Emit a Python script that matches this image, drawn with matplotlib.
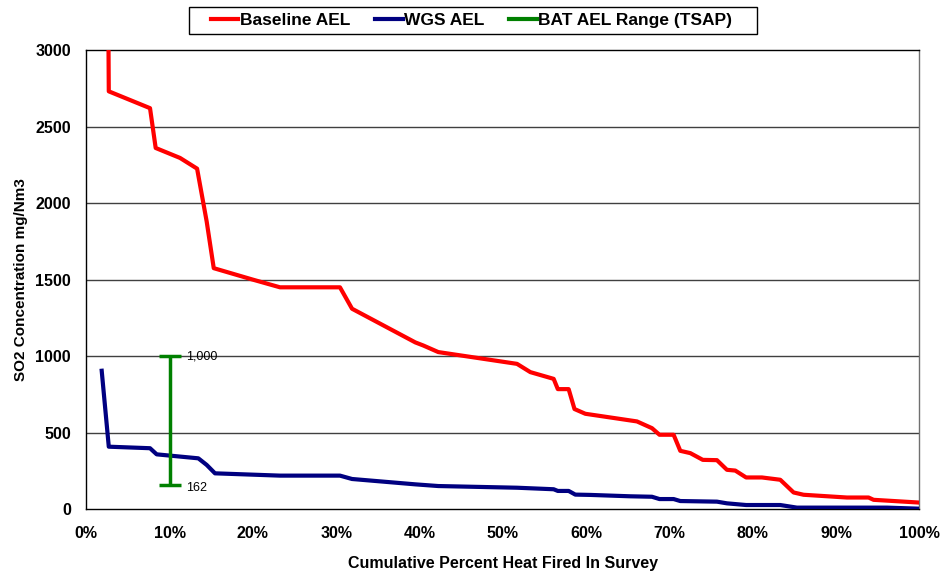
import matplotlib
matplotlib.use("Agg")
import matplotlib.pyplot as plt
from matplotlib.lines import Line2D
from matplotlib.patches import Rectangle

plt.rcParams['font.family'] = ['Liberation Sans', 'DejaVu Sans']

# Baseline AEL (red)
baseline_x = [2.6, 2.7, 7.65, 8.33, 11.25, 13.3, 14.45, 15.3, 20.0, 23.25, 30.45, 31.9,
              39.5, 40.45, 42.25, 51.7, 53.3, 56.1, 56.6, 57.9, 58.6, 59.9, 66.1, 67.9,
              68.8, 70.5, 71.3, 72.5, 74.0, 75.7, 76.9, 77.9, 79.2, 81.1, 83.3, 84.9,
              86.1, 91.3, 93.9, 94.5, 100.0]
baseline_y = [3600, 2730, 2620, 2360, 2295, 2225, 1880, 1575, 1500, 1450, 1450, 1310,
              1090, 1070, 1027, 950, 896, 852, 785, 785, 655, 624, 574, 530,
              487, 487, 382, 367, 323, 321, 258, 253, 208, 208, 193, 110,
              95, 77, 77, 62, 44]

# WGS AEL (blue)
wgs_x = [1.85, 2.7, 7.65, 8.45, 13.45, 14.45, 15.45, 23.25, 30.45, 31.9, 39.5, 42.25,
         51.7, 56.1, 56.6, 57.9, 58.7, 60.5, 65.3, 67.9, 68.8, 70.5, 71.3, 75.7,
         76.9, 79.2, 83.3, 85.3, 96.1, 100.0]
wgs_y = [905, 409, 399, 359, 333, 290, 235, 220, 220, 198, 163, 152,
         141, 131, 120, 120, 96, 94, 85, 82, 67, 67, 54, 50,
         39, 28, 28, 11, 11, 4]

# BAT AEL range (TSAP)
bat_x = 10
bat_low = 162
bat_high = 1000
bat_labels = ["1,000", "162"]

x_ticks = [0, 10, 20, 30, 40, 50, 60, 70, 80, 90, 100]
x_ticklabels = [f"{t}%" for t in x_ticks]
y_ticks = [0, 500, 1000, 1500, 2000, 2500, 3000]

fig = plt.figure(figsize=(9.42, 5.74), dpi=100)
ax = fig.add_axes([0.0916, 0.1127, 0.976 - 0.0916, 0.9129 - 0.1127])

for y in y_ticks[1:-1]:
    ax.axhline(y, color='#404040', lw=1.0, zorder=1)

red = '#FF0000'
blue = '#000080'
green = '#008000'

ax.plot(baseline_x, baseline_y, color=red, lw=3, zorder=3)
ax.plot(wgs_x, wgs_y, color=blue, lw=3, zorder=3)

mid = (bat_low + bat_high) / 2
ax.errorbar([bat_x], [mid], yerr=[[mid - bat_low], [bat_high - mid]],
            fmt='none', ecolor=green, elinewidth=2.5, capsize=8, capthick=2.5, zorder=4)
ax.text(bat_x + 2.0, bat_high, bat_labels[0], fontsize=9, va='center', ha='left')
ax.text(bat_x + 2.0, bat_low - 20, bat_labels[1], fontsize=9, va='center', ha='left')

ax.set_xlim(0, 100)
ax.set_ylim(0, 3000)
ax.set_xticks(x_ticks)
ax.set_xticklabels(x_ticklabels)
ax.set_yticks(y_ticks)
ax.tick_params(axis='both', length=0, labelsize=11.5)
ax.tick_params(axis='x', pad=12)
ax.tick_params(axis='y', pad=11)
for lbl in ax.get_xticklabels() + ax.get_yticklabels():
    lbl.set_fontweight('bold')

for s in ax.spines.values():
    s.set_color('black')
    s.set_linewidth(1.0)
ax.spines['right'].set_color('#707070')

ax.set_xlabel('Cumulative Percent Heat Fired In Survey', fontsize=11.5, fontweight='bold', labelpad=11)
ax.set_ylabel('SO2 Concentration mg/Nm3', fontsize=11, fontweight='bold', labelpad=5)

# legend frame
fig.patches.append(Rectangle((189 / 942, 1 - 34 / 574), (757 - 189) / 942, 27 / 574,
                             transform=fig.transFigure, fill=True, facecolor='white',
                             edgecolor='black', lw=1.0, zorder=0))
handles = [Line2D([], [], color=red, lw=3),
           Line2D([], [], color=blue, lw=3),
           Line2D([], [], color=green, lw=3)]
leg = fig.legend(handles, ['Baseline AEL', 'WGS AEL', 'BAT AEL Range (TSAP)'],
                 loc='center', bbox_to_anchor=(471.5 / 942, 1 - 20.5 / 574), ncol=3,
                 frameon=False, handlelength=1.6, handletextpad=0.1,
                 columnspacing=1.4, prop={'weight': 'bold', 'size': 12.5},
                 borderpad=0.0)

fig.savefig('out.png', dpi=100)
